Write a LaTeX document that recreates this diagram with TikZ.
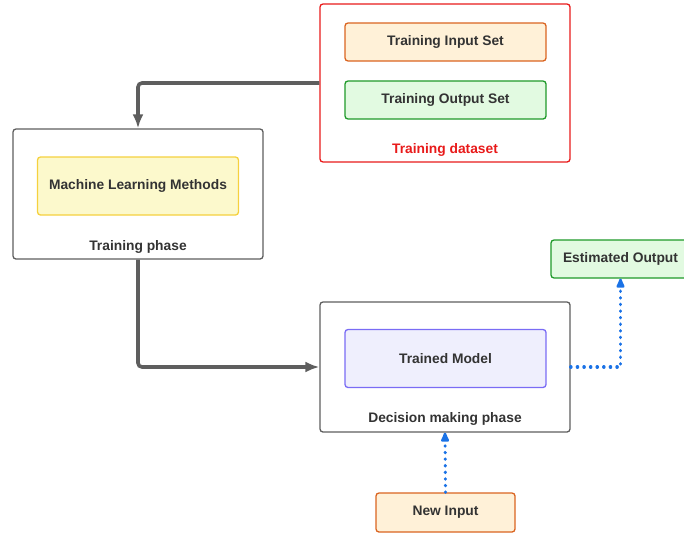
\documentclass[tikz,border=0pt]{standalone}
\usepackage{fontspec}
\setmainfont{Liberation Sans}
\usepackage{tikz}
\usetikzlibrary{arrows.meta,positioning,calc}
\definecolor{txtgray}{HTML}{333333}
\definecolor{boxgray}{HTML}{5E5E5E}
\definecolor{dsred}{HTML}{E81A1A}
\definecolor{inorange}{HTML}{DA6420}
\definecolor{infill}{HTML}{FFF1D8}
\definecolor{outgreen}{HTML}{1F9A2A}
\definecolor{outfill}{HTML}{E2FAE1}
\definecolor{mlyellow}{HTML}{F5D13E}
\definecolor{mlfill}{HTML}{FCF9CC}
\definecolor{mdblue}{HTML}{7A6CF5}
\definecolor{mdfill}{HTML}{EFEFFD}
\definecolor{dotblue}{HTML}{1A72E6}

\begin{document}
\begin{tikzpicture}[x=1pt, y=-1pt,
  every node/.style={font=\fontsize{13.8}{16}\selectfont\bfseries, text=txtgray},
  phase/.style={draw=boxgray, line width=1.3pt, rounded corners=3pt, minimum width=250pt, minimum height=130pt},
  inner/.style={rounded corners=3pt, line width=1.3pt, minimum width=201pt},
  flow/.style={draw=boxgray, line width=3.6pt, -{Latex[length=14pt,width=11pt]}},
  dotflow/.style={draw=dotblue, line width=3.2pt, line cap=round, dash pattern=on 0.4pt off 6.2pt, -{Latex[length=13pt,width=10pt,round]}}]
\useasboundingbox (0,0) rectangle (684,533);
% training dataset
\node[draw=dsred, line width=1.3pt, rounded corners=3pt, minimum width=250pt, minimum height=158pt] (dataset) at (445,83) {};
\node[inner, draw=inorange, fill=infill, minimum height=38pt] (trainin) at (445.5,42) {Training Input Set};
\node[inner, draw=outgreen, fill=outfill, minimum height=38pt] (trainout) at (445.5,100) {Training Output Set};
\node[text=dsred] (dslabel) at (445,150) {Training dataset};
% training phase
\node[phase] (training) at (138,194) {};
\node[inner, draw=mlyellow, fill=mlfill, minimum height=58pt] (ml) at (138,186) {Machine Learning Methods};
\node (trlabel) at (138,246.5) {Training phase};
% decision making phase
\node[phase] (decision) at (445,367) {};
\node[inner, draw=mdblue, fill=mdfill, minimum height=58pt] (model) at (445.5,358.5) {Trained Model};
\node (dlabel) at (445,419) {Decision making phase};
\node[inner, draw=outgreen, fill=outfill, minimum width=139pt, minimum height=38pt] (estout) at (620.5,259) {Estimated Output};
\node[inner, draw=inorange, fill=infill, minimum width=139pt, minimum height=39pt] (newin) at (445.5,512.5) {New Input};
% connectors
\draw[flow, rounded corners=4pt] (dataset.west) -| (training.north);
\draw[flow, rounded corners=4pt] (training.south) |- (decision.west);
\draw[dotflow] (decision.east) -| (estout.south);
\draw[dotflow] (newin.north) -- (decision.south);
\end{tikzpicture}
\end{document}
